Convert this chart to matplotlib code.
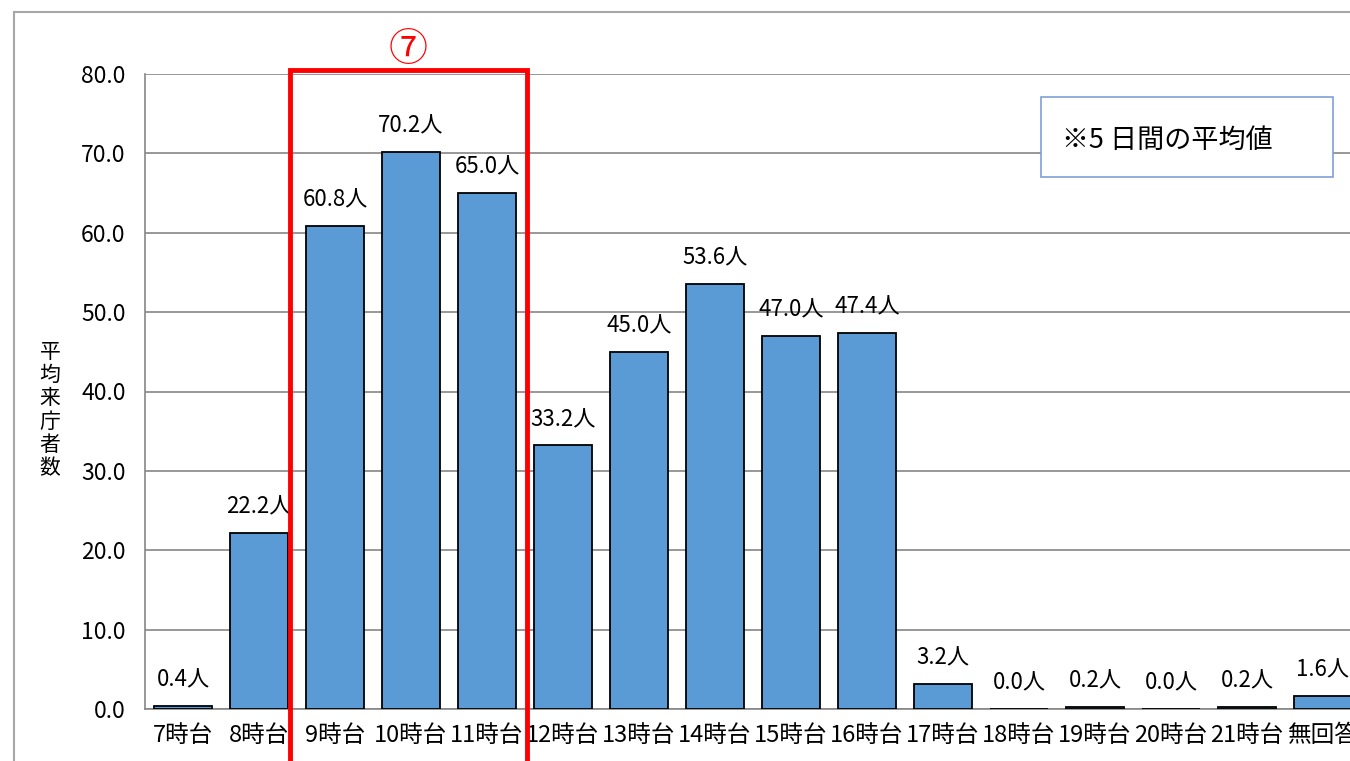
import matplotlib
matplotlib.use('Agg')
import matplotlib.pyplot as plt
from matplotlib.patches import Rectangle
import matplotlib.transforms as mtransforms

plt.rcParams['font.family'] = ['Noto Sans CJK JP', 'DejaVu Sans']

# data
hours = ['7時台', '8時台', '9時台', '10時台', '11時台', '12時台', '13時台', '14時台',
         '15時台', '16時台', '17時台', '18時台', '19時台', '20時台', '21時台', '無回答']
visitors = [0.4, 22.2, 60.8, 70.2, 65.0, 33.2, 45.0, 53.6,
            47.0, 47.4, 3.2, 0.0, 0.2, 0.0, 0.2, 1.6]
yticks = [0, 10, 20, 30, 40, 50, 60, 70, 80]

W, H = 1350, 761
fig = plt.figure(figsize=(W / 100, H / 100), dpi=100)

# outer chart frame (cropped on right and bottom)
fig.add_artist(plt.Line2D([14 / W, 14 / W], [0, 1 - 12 / H], color='#a6a6a6', lw=1.5))
fig.add_artist(plt.Line2D([14 / W, 1], [1 - 12 / H, 1 - 12 / H], color='#a6a6a6', lw=1.5))

slot = 76
ax = fig.add_axes([145 / W, 52 / H, len(hours) * slot / W, (709 - 74) / H])
x = list(range(len(hours)))
bars = ax.bar(x, visitors, width=0.77, color='#5b9bd5', edgecolor='black', linewidth=1.3, zorder=3)
ax.set_xlim(-0.5, len(hours) - 0.5)
ax.set_ylim(0, 80)
ax.set_yticks(yticks)
ax.set_yticklabels(['%.1f' % v for v in yticks], fontsize=16.5)
ax.set_xticks(x)
ax.set_xticklabels(hours, fontsize=17)
ax.tick_params(axis='both', length=0)
ax.tick_params(axis='y', pad=14)
ax.tick_params(axis='x', pad=11)
ax.grid(axis='y', color='#868686', lw=1.2, zorder=0)
for s in ['top', 'right']:
    ax.spines[s].set_visible(False)
for s in ['left', 'bottom']:
    ax.spines[s].set_color('#868686')
    ax.spines[s].set_linewidth(1.2)

for xi, v in zip(x, visitors):
    ax.annotate('%.1f人' % v, (xi, v), xytext=(0, 26), textcoords='offset pixels',
                ha='center', va='center', fontsize=16, annotation_clip=False)

# y label, stacked vertically
fig.text(50 / W, 1 - 410 / H, '\n'.join('平均来庁者数'), ha='center', va='center',
         fontsize=15, linespacing=1.08)

# red highlight box around 9-11
trans = mtransforms.blended_transform_factory(ax.transData, fig.transFigure)
ax.add_patch(Rectangle((1.408, -0.05), 4.526 - 1.408, 1 - 70 / H + 0.05, transform=trans,
                       fill=False, edgecolor='#ff0000', lw=3.5, clip_on=False, zorder=5))
ax.text(2.96, 1 - 50 / H, '⑦', transform=trans, color='#ff0000', fontsize=28,
        ha='center', va='center')

# note box
fig.add_artist(Rectangle((1041 / W, 1 - 177 / H), (1333 - 1041) / W, 80 / H,
                         transform=fig.transFigure, facecolor='white',
                         edgecolor='#7f9fd8', lw=1.2, zorder=6))
fig.text(1062 / W, 1 - 140 / H, '※5 日間の平均値', fontsize=19.5, va='center', ha='left', zorder=7)

fig.savefig('out.png', dpi=100)
